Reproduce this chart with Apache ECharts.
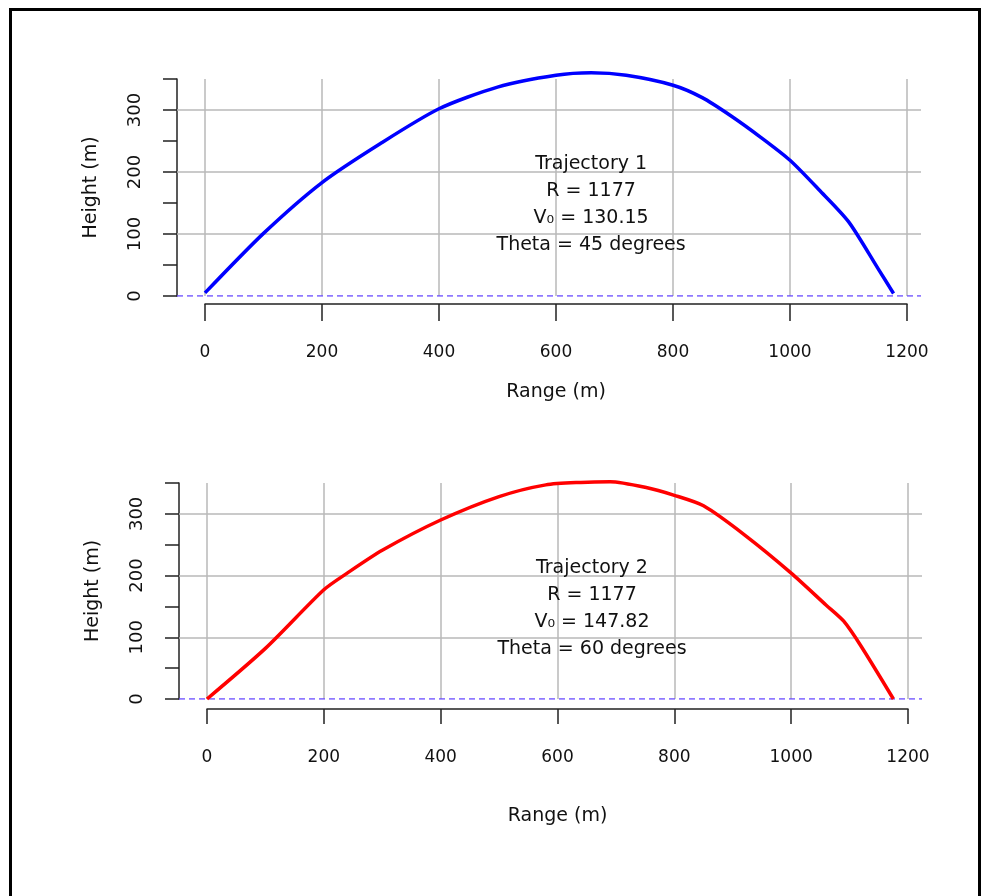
<!DOCTYPE html>
<html>
<head>
<meta charset="utf-8">
<script src="https://cdn.jsdelivr.net/npm/echarts@6/dist/echarts.min.js"></script>
<style>
  html, body { margin: 0; padding: 0; background: #fff; }
  #main { width: 988px; height: 896px; }
</style>
</head>
<body>
<div id="main"></div>
<script>
// trajectory 1 (blue)
var range1  = [0, 100, 200, 300, 400, 500, 600, 660, 720, 800, 850, 900, 950, 1000, 1050, 1100, 1150, 1177];
var height1 = [5, 101, 183, 246, 302, 337, 356, 360, 356, 340, 320, 290, 256, 219, 171, 120, 45, 4];
// trajectory 2 (red)
var range2  = [0, 100, 200, 240, 300, 400, 500, 580, 640, 690, 750, 800, 850, 920, 1000, 1060, 1090, 1120, 1175];
var height2 = [0, 82, 177, 204, 241, 290, 328, 347, 351, 352, 343, 330, 313, 266, 204, 152, 126, 85, 0];

var xMin = 0, xMax = 1200, xStep = 200;
var yMin = 0, yMax = 350, yStep = 50, yLabelStep = 100;
var xPad = [-48, 1224];          // plot region incl. padding (dashed zero line)
var yGrid = [100, 200, 300];     // horizontal grid lines

var note1 = ['Trajectory 1', 'R = 1177', 'V\u2080 = 130.15', 'Theta = 45 degrees'];
var note2 = ['Trajectory 2', 'R = 1177', 'V\u2080 = 147.82', 'Theta = 60 degrees'];
var notePos1 = [660, 148];
var notePos2 = [659, 146];

var FONT = 'DejaVu Sans';
var TXT = '#111';

function pairs(xs, ys) {
  return xs.map(function (x, i) { return [x, ys[i]]; });
}

function innerX(grid, off, tickLen, nameGap) {
  return {
    type: 'value', gridIndex: grid, min: xMin, max: xMax, interval: xStep,
    offset: off,
    axisLine: { show: true, onZero: false, lineStyle: { color: '#222', width: 1.5 } },
    axisTick: { show: true, length: tickLen, lineStyle: { color: '#222', width: 1.5 } },
    axisLabel: { margin: 40, fontSize: 17, fontFamily: FONT, color: TXT,
      formatter: function (v) { return String(v); } },
    splitLine: { show: true, lineStyle: { color: '#b8b8b8', width: 1.5 } },
    name: 'Range (m)', nameLocation: 'middle', nameGap: nameGap,
    nameTextStyle: { fontSize: 19, fontFamily: FONT, color: TXT }
  };
}

function innerY(grid) {
  return {
    type: 'value', gridIndex: grid, min: yMin, max: yMax, interval: yStep,
    offset: 28,
    axisLine: { show: true, onZero: false, lineStyle: { color: '#222', width: 1.5 } },
    axisTick: { show: true, length: 14, lineStyle: { color: '#222', width: 1.5 } },
    axisLabel: {
      rotate: 90, margin: 33, fontSize: 18, fontFamily: FONT, color: TXT,
      formatter: function (v) { return (v % yLabelStep === 0 && v < yMax) ? String(v) : ''; }
    },
    splitLine: { show: false },
    name: 'Height (m)', nameLocation: 'middle', nameGap: 76,
    nameTextStyle: { fontSize: 19, fontFamily: FONT, color: TXT }
  };
}

function outerX(grid) {
  return { type: 'value', gridIndex: grid, min: xPad[0], max: xPad[1], show: false };
}
function outerY(grid) {
  return { type: 'value', gridIndex: grid, min: yMin, max: yMax, show: false };
}

function curve(idx, xs, ys, color, note, pos) {
  return {
    type: 'line', xAxisIndex: idx, yAxisIndex: idx, z: 5, clip: false,
    data: pairs(xs, ys), showSymbol: false, smooth: 0.25,
    lineStyle: { color: color, width: 3.5 },
    markPoint: {
      symbol: 'circle', symbolSize: 0, silent: true,
      data: [{
        coord: pos,
        label: {
          show: true, position: 'inside', formatter: note.join('\n'),
          fontSize: 19, lineHeight: 27, fontFamily: FONT, color: TXT
        }
      }]
    }
  };
}

function backdrop(idx) {
  return {
    type: 'line', xAxisIndex: idx, yAxisIndex: idx, z: 2,
    data: pairs(xPad, [0, 0]), showSymbol: false, silent: true,
    lineStyle: { color: '#6b4dff', width: 1.5, type: [6, 4] },
    markLine: {
      silent: true, symbol: 'none', label: { show: false },
      lineStyle: { color: '#b8b8b8', width: 1.5, type: 'solid' },
      data: yGrid.map(function (v) { return { yAxis: v }; })
    }
  };
}

var myChart = echarts.init(document.getElementById('main'));
myChart.setOption({
  animation: false,
  backgroundColor: '#fff',
  graphic: [{
    type: 'rect', left: 8, top: 7, silent: true,
    shape: { width: 969, height: 905 },
    style: { fill: 'none', stroke: '#000', lineWidth: 3 }
  }],
  grid: [
    { left: 205, right: 81, top: 79, bottom: 600 },
    { left: 177, right: 67, top: 79, bottom: 600 },
    { left: 207, right: 80, top: 483, bottom: 197 },
    { left: 179, right: 66, top: 483, bottom: 197 }
  ],
  xAxis: [innerX(0, 8, 17, 79), outerX(1), innerX(2, 10, 15, 98), outerX(3)],
  yAxis: [innerY(0), outerY(1), innerY(2), outerY(3)],
  series: [
    backdrop(1),
    curve(0, range1, height1, '#0000ff', note1, notePos1),
    backdrop(3),
    curve(2, range2, height2, '#ff0000', note2, notePos2)
  ]
});
</script>
</body>
</html>
